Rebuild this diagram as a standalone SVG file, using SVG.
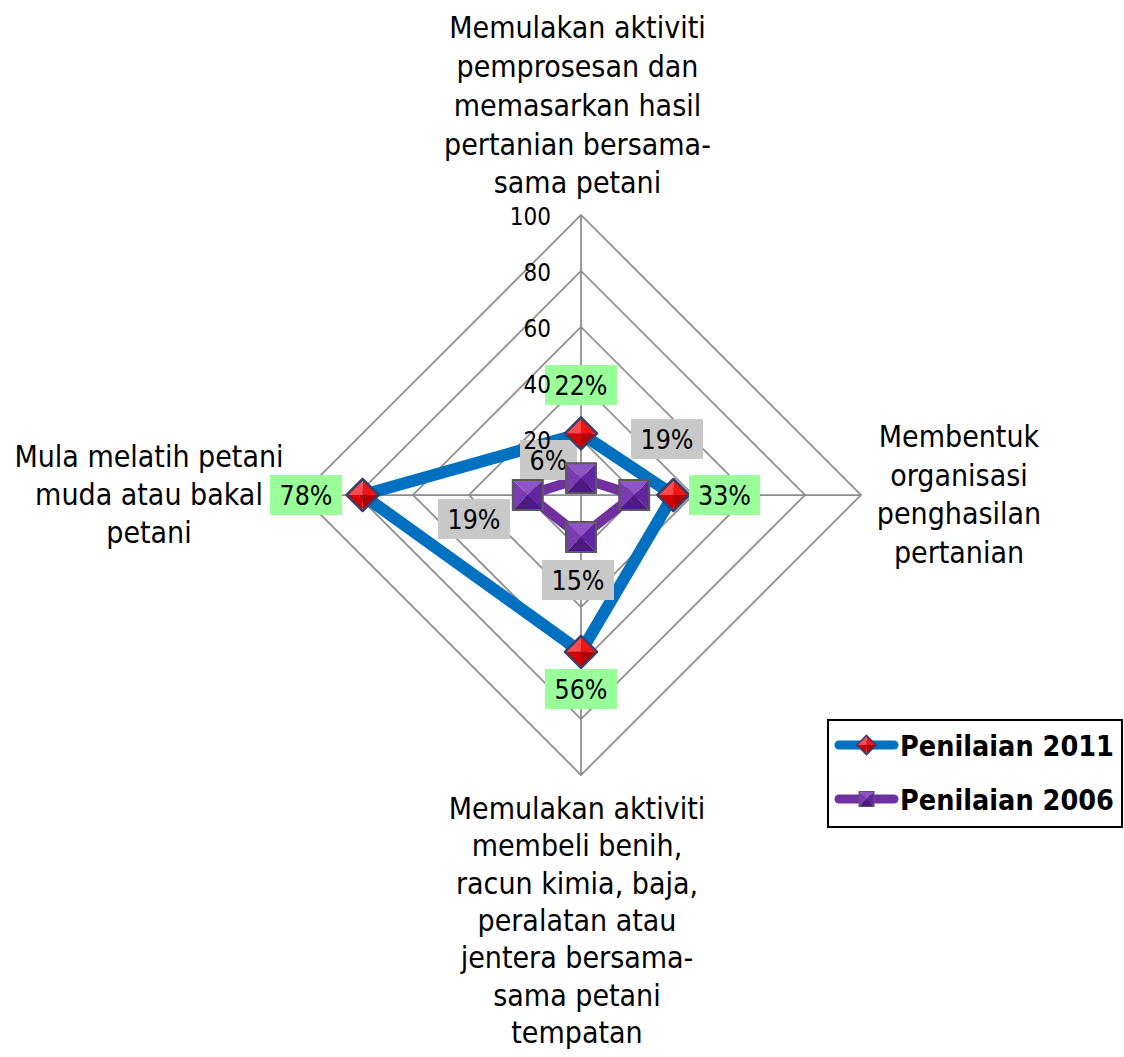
<svg xmlns="http://www.w3.org/2000/svg" width="1124" height="1057" viewBox="0 0 1124 1057">
<style>
.t,.ax,.lbl,.lg{font-family:"DejaVu Sans Condensed","DejaVu Sans",Verdana,sans-serif;font-stretch:condensed;fill:#000}
.t{font-size:30px;text-anchor:middle}
.ax{font-size:24px;text-anchor:end}
.lbl{font-size:26.5px;text-anchor:middle}
.lg{font-size:28.5px;font-weight:bold}
.grid{fill:none;stroke:#8c8c8c;stroke-width:1.75}
.gray{fill:#c8c8c8}
.green{fill:#99ff99}
.s11{fill:none;stroke:#0070c0;stroke-width:12;stroke-linejoin:round}
.s06{fill:none;stroke:#7030a0;stroke-width:10;stroke-linejoin:round}
</style>
<defs>
<g id="dia">
<polygon points="0,0 -16,0 0,-16" fill="#ff4a4a"/>
<polygon points="0,0 0,-16 16,0" fill="#f01414"/>
<polygon points="0,0 16,0 0,16" fill="#b00000"/>
<polygon points="0,0 0,16 -16,0" fill="#d60000"/>
<polygon points="-16,0 0,-16 16,0 0,16" fill="none" stroke="#3a3f6a" stroke-width="2.5" stroke-linejoin="round"/>
</g>
<g id="sq">
<polygon points="0,0 -15,-15 15,-15" fill="#8f55c4"/>
<polygon points="0,0 -15,-15 -15,15" fill="#7a3cb0"/>
<polygon points="0,0 15,-15 15,15" fill="#6226a0"/>
<polygon points="0,0 -15,15 15,15" fill="#4e1a80"/>
<rect x="-15" y="-15" width="30" height="30" fill="none" stroke="#5a5a5a" stroke-width="2"/>
</g>
</defs>
<rect width="1124" height="1057" fill="#fff"/>
<g id="grid">
<path class="grid" d="M581,439 L637,495 L581,551 L525,495 Z"/>
<path class="grid" d="M581,383 L693,495 L581,607 L469,495 Z"/>
<path class="grid" d="M581,327 L749,495 L581,663 L413,495 Z"/>
<path class="grid" d="M581,271 L805,495 L581,719 L357,495 Z"/>
<path class="grid" d="M581,215 L861,495 L581,775 L301,495 Z"/>
<path class="grid" d="M581,215 V775 M301,495 H861"/>
</g>
<g id="connectors">
<polygon class="s11" points="581,433.4 673.4,495 581,651.8 362.6,495"/>
<polygon class="s06" points="581,478.2 634.2,495 581,537 527.8,495"/>
</g>
<g id="labels-2006">
<rect class="gray" x="520" y="440" width="57" height="40"/><text class="lbl" x="548.5" y="470">6%</text>
<rect class="gray" x="631" y="419" width="72" height="40"/><text class="lbl" x="667" y="449">19%</text>
<rect class="gray" x="438" y="499" width="72" height="40"/><text class="lbl" x="474" y="529">19%</text>
<rect class="gray" x="542" y="560" width="72" height="40"/><text class="lbl" x="578" y="590">15%</text>
</g>
<g id="markers">
<use href="#dia" x="581" y="433.4"/>
<use href="#dia" x="673.4" y="495"/>
<use href="#dia" x="581" y="651.8"/>
<use href="#dia" x="362.6" y="495"/>
<use href="#sq" x="581" y="478.2"/>
<use href="#sq" x="634.2" y="495"/>
<use href="#sq" x="581" y="537"/>
<use href="#sq" x="527.8" y="495"/>
</g>
<g id="labels-2011">
<rect class="green" x="545" y="365" width="72" height="40"/><text class="lbl" x="581" y="395">22%</text>
<rect class="green" x="689" y="475" width="71" height="40"/><text class="lbl" x="724.5" y="505">33%</text>
<rect class="green" x="545" y="669" width="72" height="40"/><text class="lbl" x="581" y="699">56%</text>
<rect class="green" x="270" y="475" width="72" height="40"/><text class="lbl" x="306" y="505">78%</text>
</g>
<g id="axis-values">
<text class="ax" x="551" y="225">100</text>
<text class="ax" x="551" y="281">80</text>
<text class="ax" x="551" y="337">60</text>
<text class="ax" x="551" y="393">40</text>
<text class="ax" x="551" y="449">20</text>
</g>
<g id="cat-top">
<text class="t" x="577.5" y="38">Memulakan aktiviti</text>
<text class="t" x="577.5" y="77">pemprosesan dan</text>
<text class="t" x="577.5" y="116">memasarkan hasil</text>
<text class="t" x="577.5" y="155">pertanian bersama-</text>
<text class="t" x="577.5" y="193">sama petani</text>
</g>
<g id="cat-right">
<text class="t" x="959" y="447">Membentuk</text>
<text class="t" x="959" y="485.5">organisasi</text>
<text class="t" x="959" y="524">penghasilan</text>
<text class="t" x="959" y="562.5">pertanian</text>
</g>
<g id="cat-bottom">
<text class="t" x="577" y="819">Memulakan aktiviti</text>
<text class="t" x="577" y="856.3">membeli benih,</text>
<text class="t" x="577" y="893.6">racun kimia, baja,</text>
<text class="t" x="577" y="931">peralatan atau</text>
<text class="t" x="577" y="968.2">jentera bersama-</text>
<text class="t" x="577" y="1005.5">sama petani</text>
<text class="t" x="577" y="1043">tempatan</text>
</g>
<g id="cat-left">
<text class="t" x="149" y="467">Mula melatih petani</text>
<text class="t" x="149" y="505">muda atau bakal</text>
<text class="t" x="149" y="543">petani</text>
</g>
<g id="legend">
<rect x="828" y="720" width="294" height="107" fill="#fff" stroke="#000" stroke-width="2"/>
<line x1="839" y1="745" x2="894" y2="745" stroke="#0070c0" stroke-width="9" stroke-linecap="round"/>
<use href="#dia" transform="translate(866.5,745) scale(0.6)"/>
<text class="lg" x="900" y="756">Penilaian 2011</text>
<line x1="839" y1="799" x2="894" y2="799" stroke="#7030a0" stroke-width="9" stroke-linecap="round"/>
<use href="#sq" transform="translate(866.5,799) scale(0.5)"/>
<text class="lg" x="900" y="810">Penilaian 2006</text>
</g>
</svg>
